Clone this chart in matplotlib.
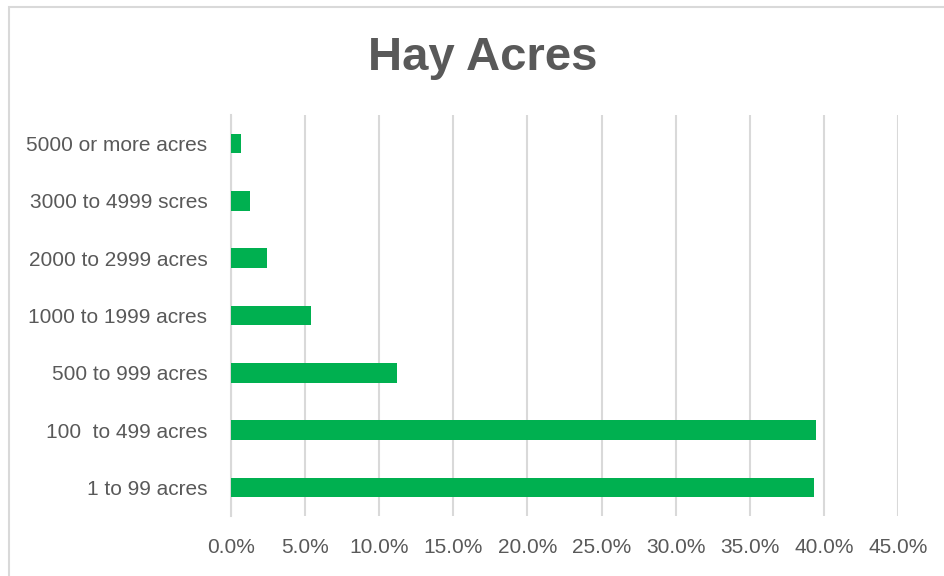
import matplotlib
matplotlib.use("Agg")
import matplotlib.pyplot as plt
from matplotlib.patches import Rectangle
from matplotlib.ticker import FuncFormatter

# data, bottom to top as drawn
categories = ["1 to 99 acres", "100  to 499 acres", "500 to 999 acres",
              "1000 to 1999 acres", "2000 to 2999 acres", "3000 to 4999 scres",
              "5000 or more acres"]
shares = [39.3, 39.5, 11.2, 5.4, 2.4, 1.3, 0.65]
xticks = [0, 5, 10, 15, 20, 25, 30, 35, 40, 45]

W, H = 945, 576
grey_txt = "#595959"
grid_col = "#D9D9D9"

plt.rcParams["font.family"] = ["Liberation Sans", "DejaVu Sans"]

fig = plt.figure(figsize=(W / 100, H / 100), dpi=100)
# outer chart frame (light grey)
fig.patches.append(Rectangle((9 / W, -0.05), 1.0, 1 - 7 / H + 0.05,
                             transform=fig.transFigure, fill=False,
                             edgecolor=grid_col, linewidth=1.5))

ax = fig.add_axes([231 / W, 1 - 516 / H, (898 - 231) / W, (516 - 115) / H])
ypos = list(range(len(categories)))
ax.barh(ypos, shares, height=0.34, color="#00B050", zorder=3)

ax.set_xlim(0, 45)
ax.set_ylim(-0.5, len(categories) - 0.5)
ax.set_xticks(xticks)
ax.xaxis.set_major_formatter(FuncFormatter(lambda v, p: f"{v:.1f}%"))
ax.set_yticks(ypos)
ax.set_yticklabels(categories)

ax.grid(axis="x", color=grid_col, linewidth=1.5, zorder=0)
for s in ["top", "right", "bottom"]:
    ax.spines[s].set_visible(False)
ax.spines["left"].set_color(grid_col)
ax.spines["left"].set_linewidth(1.5)
ax.tick_params(axis="both", length=0, colors=grey_txt, labelsize=15)
ax.tick_params(axis="y", pad=17)
ax.tick_params(axis="x", pad=16)

fig.text(0.5 * (368 + 597) / W, 1 - 58 / H, "Hay Acres", ha="center", va="center",
         fontsize=34, fontweight="bold", color=grey_txt)

fig.savefig("out.png", dpi=100)
